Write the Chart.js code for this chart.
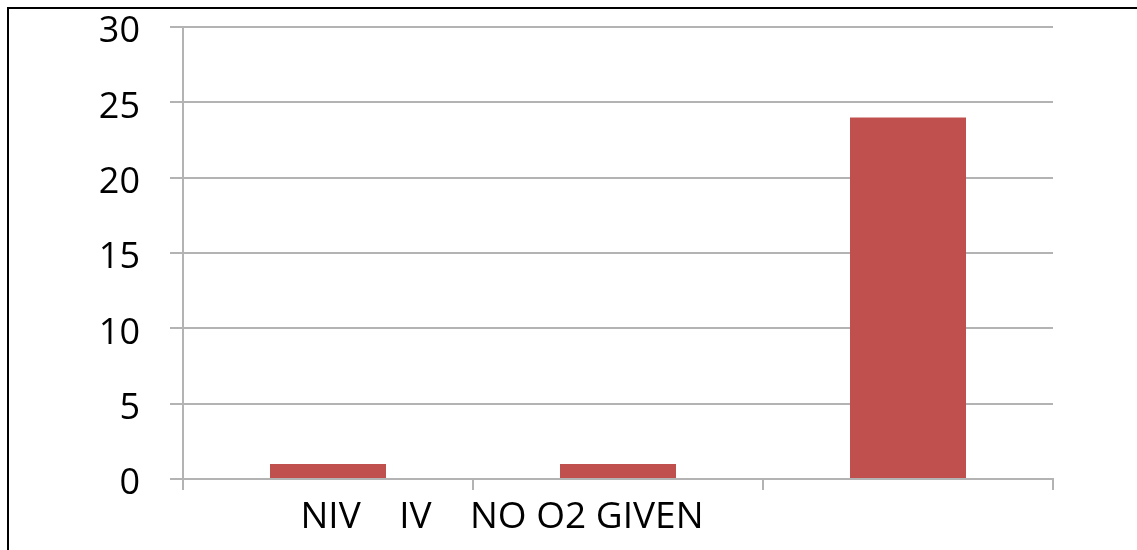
<!DOCTYPE html>
<html>
<head>
<meta charset="utf-8">
<script src="https://cdn.jsdelivr.net/npm/chart.js"></script>
<style>
  html, body { margin: 0; padding: 0; background: #fff; }
  #wrap { position: relative; width: 1137px; height: 550px; overflow: hidden; }
  #frame { position: absolute; left: 7px; top: 7px; right: 0; bottom: 0;
           border-left: 2px solid #000; border-top: 2px solid #000; }
  canvas { position: absolute; left: 0; top: 0; }
</style>
</head>
<body>
<div id="wrap">
  <div id="frame"></div>
  <canvas id="chart" width="1137" height="550"></canvas>
</div>
<script>
// categories and values
var categories = ["NIV", "IV", "NO O2 GIVEN"];
var values = [1, 1, 24];
var yTicks = [0, 5, 10, 15, 20, 25, 30];

// the original shows all three names run together under the first bar
var joinedLabel = categories[0] + "    " + categories[1] + "    " + categories[2];

new Chart("chart", {
  type: "bar",
  data: {
    labels: categories,
    datasets: [{
      data: values,
      backgroundColor: "#c0504d",
      borderWidth: 0,
      barPercentage: 0.4,
      categoryPercentage: 1.0
    }]
  },
  options: {
    responsive: false,
    animation: false,
    layout: { padding: { top: 27, right: 84, left: 0, bottom: 0 } },
    plugins: {
      legend: { display: false },
      tooltip: { enabled: false }
    },
    scales: {
      x: {
        grid: {
          drawOnChartArea: false,
          drawTicks: true,
          tickLength: 11,
          color: "#b3b3b3",
          lineWidth: 2
        },
        border: { color: "#b3b3b3", width: 2 },
        ticks: {
          color: "#000",
          font: { family: "Open Sans", size: 37 },
          maxRotation: 0,
          autoSkip: false,
          padding: 5,
          labelOffset: 174,
          callback: function (v, i) { return i === 0 ? joinedLabel : ""; }
        },
        afterFit: function (s) { s.height = 71; s.paddingLeft = 0; s.paddingRight = 0; }
      },
      y: {
        min: 0,
        max: 30,
        afterBuildTicks: function (s) { s.ticks = yTicks.map(function (v) { return { value: v }; }); },
        grid: {
          color: "#b3b3b3",
          lineWidth: 2,
          tickLength: 13
        },
        border: { color: "#b3b3b3", width: 2 },
        ticks: {
          color: "#000",
          font: { family: "Open Sans", size: 36 },
          padding: 30,
          labelOffset: 5
        },
        afterFit: function (s) { s.width = 183; s.paddingTop = 0; s.paddingBottom = 0; }
      }
    }
  }
});
</script>
</body>
</html>
